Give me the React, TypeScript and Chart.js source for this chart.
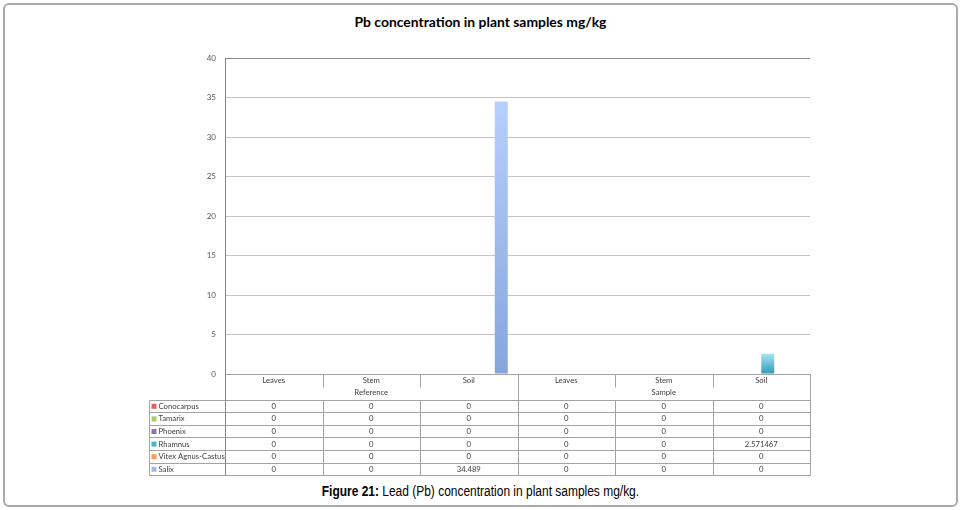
import React, { useEffect, useRef } from 'react';
import { Chart, registerables } from 'chart.js';

Chart.register(...registerables);

const CATEGORIES = ['Leaves', 'Stem', 'Soil', 'Leaves', 'Stem', 'Soil'];
const GROUPS = ['Reference', 'Sample'];
const SERIES_NAMES = ['Conocarpus', 'Tamarix', 'Phoenix', 'Rhamnus', 'Vitex Agnus-Castus', 'Salix'];

const CONOCARPUS = [0, 0, 0, 0, 0, 0];
const TAMARIX = [0, 0, 0, 0, 0, 0];
const PHOENIX = [0, 0, 0, 0, 0, 0];
const RHAMNUS = [0, 0, 0, 0, 0, 2.571467];
const VITEX = [0, 0, 0, 0, 0, 0];
const SALIX = [0, 0, 34.489, 0, 0, 0];

const Y_MAX = 40;
const Y_STEP = 5;

// [top of gradient, bottom of gradient, legend swatch]
const SERIES_COLORS = [
  ['#f5a09e', '#c0504d', '#e0625f'],
  ['#cbe596', '#9bbb59', '#a8cc6a'],
  ['#bba6d8', '#8064a2', '#8f72b4'],
  ['#a8e4f4', '#2f9bb6', '#4bb4d2'],
  ['#fcc594', '#f79646', '#f99c56'],
  ['#b6d0fd', '#86a5da', '#9db9ec'],
];

const SERIES_DATA = [CONOCARPUS, TAMARIX, PHOENIX, RHAMNUS, VITEX, SALIX];

const TABLE_FONT = '7.7px Lato, "Open Sans", sans-serif';
const LINE = '#a3a3a3';

const tablePlugin = {
  id: 'dataTable',
  afterDraw(chart: any) {
    const { ctx, chartArea, scales } = chart;
    const x = scales.x;
    const half = (x.getPixelForValue(1) - x.getPixelForValue(0)) / 2;
    const left = chartArea.left;
    const right = chartArea.right;
    const top = chartArea.bottom;
    const legendLeft = 148.5;
    const headRow = 12.5;
    const rowsTop = top + 25.5;
    const rowH = 12.6;
    const bottom = rowsTop + rowH * SERIES_NAMES.length;

    ctx.save();
    ctx.strokeStyle = LINE;
    ctx.lineWidth = 1;
    const line = (x1: number, y1: number, x2: number, y2: number) => {
      ctx.beginPath();
      ctx.moveTo(Math.round(x1) + 0.5, Math.round(y1) + 0.5);
      ctx.lineTo(Math.round(x2) + 0.5, Math.round(y2) + 0.5);
      ctx.stroke();
    };

    // horizontal rules
    line(left, top, right, top);
    for (let r = 0; r <= SERIES_NAMES.length; r++) {
      const y = rowsTop + r * rowH;
      line(legendLeft, y, right, y);
    }
    // outer verticals
    line(legendLeft, rowsTop, legendLeft, bottom);
    ctx.strokeStyle = '#868686';
    line(left, chartArea.top, left, bottom);
    ctx.strokeStyle = LINE;
    line(right, top, right, bottom);

    // column separators
    CATEGORIES.forEach((_, i) => {
      if (i === 0) return;
      const cx = x.getPixelForValue(i) - half;
      if (i % 3 === 0) {
        line(cx, top, cx, bottom);
      } else {
        line(cx, top, cx, top + headRow);
        line(cx, rowsTop, cx, bottom);
      }
    });

    ctx.font = TABLE_FONT;
    ctx.fillStyle = '#404040';
    ctx.textAlign = 'center';
    ctx.textBaseline = 'middle';

    CATEGORIES.forEach((c, i) => {
      ctx.fillText(c, x.getPixelForValue(i), top + 6.5);
    });
    GROUPS.forEach((g, gi) => {
      const a = x.getPixelForValue(gi * 3) - half;
      const b = x.getPixelForValue(gi * 3 + 2) + half;
      ctx.fillText(g, (a + b) / 2, top + headRow + 6.5);
    });

    SERIES_NAMES.forEach((name, r) => {
      const cy = rowsTop + r * rowH + rowH / 2 + 0.5;
      ctx.fillStyle = SERIES_COLORS[r][2];
      ctx.fillRect(legendLeft + 3, cy - 2.5, 5, 5);
      ctx.fillStyle = '#404040';
      ctx.textAlign = 'left';
      ctx.fillText(name, legendLeft + 10, cy);
      ctx.textAlign = 'center';
      SERIES_DATA[r].forEach((v, i) => {
        ctx.fillText(String(v), x.getPixelForValue(i), cy);
      });
    });
    ctx.restore();
  },
};

const App: React.FC = () => {
  const canvasRef = useRef<HTMLCanvasElement | null>(null);
  const chartRef = useRef<any>(null);

  useEffect(() => {
    if (!canvasRef.current) return;
    const ctx = canvasRef.current.getContext('2d');
    if (!ctx) return;
    if (chartRef.current) chartRef.current.destroy();

    chartRef.current = new Chart(ctx, {
      type: 'bar',
      data: {
        labels: CATEGORIES,
        datasets: SERIES_NAMES.map((name, s) => ({
          label: name,
          data: SERIES_DATA[s],
          borderWidth: 0,
          categoryPercentage: 0.8,
          barPercentage: 1,
          backgroundColor: (c: any) => {
            const chart = c.chart;
            const yScale = chart.scales?.y;
            const v = c.raw;
            if (!yScale || !chart.chartArea || typeof v !== 'number' || v === 0) {
              return SERIES_COLORS[s][1];
            }
            const yTop = yScale.getPixelForValue(v);
            const yBase = yScale.getPixelForValue(0);
            const g = chart.ctx.createLinearGradient(0, yTop, 0, yBase);
            g.addColorStop(0, SERIES_COLORS[s][0]);
            g.addColorStop(1, SERIES_COLORS[s][1]);
            return g;
          },
        })),
      },
      options: {
        responsive: true,
        maintainAspectRatio: false,
        animation: false,
        layout: {
          padding: { top: 58, bottom: 106, left: 205, right: 151 },
        },
        plugins: {
          legend: { display: false },
          title: { display: false },
          tooltip: { enabled: false },
        },
        scales: {
          x: {
            display: false,
          },
          y: {
            min: 0,
            max: Y_MAX,
            afterFit: (scale: any) => {
              scale.width = 20;
            },
            ticks: {
              stepSize: Y_STEP,
              padding: 9,
              color: '#595959',
              font: { size: 8, family: 'Lato, "Open Sans", sans-serif' },
            },
            grid: {
              drawTicks: false,
              color: (c: any) => (c.tick && c.tick.value === Y_MAX ? '#868686' : '#c4c4c4'),
            },
            border: { display: true, color: '#868686' },
          },
        },
      },
      plugins: [tablePlugin],
    });

    return () => {
      if (chartRef.current) {
        chartRef.current.destroy();
        chartRef.current = null;
      }
    };
  }, []);

  return (
    <div style={{ position: 'absolute', left: 0, top: 0, width: 961, height: 510, background: '#fff' }}>
      <div
        style={{
          position: 'absolute',
          left: 3,
          top: 3,
          width: 955,
          height: 504,
          boxSizing: 'border-box',
          border: '2px solid #a9a9a9',
          borderRadius: 6,
        }}
      />
      <div
        style={{
          position: 'absolute',
          left: 0,
          top: 13,
          width: 961,
          textAlign: 'center',
          fontFamily: 'Lato, "Open Sans", sans-serif',
          fontWeight: 'bold',
          fontSize: 13.9,
          color: '#000',
        }}
      >
        Pb concentration in plant samples mg/kg
      </div>
      <div style={{ position: 'absolute', left: 0, top: 0, width: 961, height: 480 }}>
        <canvas ref={canvasRef}></canvas>
      </div>
      <div
        style={{
          position: 'absolute',
          left: 0,
          top: 483,
          width: 961,
          textAlign: 'center',
          fontFamily: '"Liberation Sans Narrow", "Liberation Sans", Arial, sans-serif',
          fontSize: 14,
          color: '#000',
          transform: 'scaleX(0.855)',
          transformOrigin: '480px 0',
        }}
      >
        <b>Figure 21:</b> Lead (Pb) concentration in plant samples mg/kg.
      </div>
    </div>
  );
};

export default App;
